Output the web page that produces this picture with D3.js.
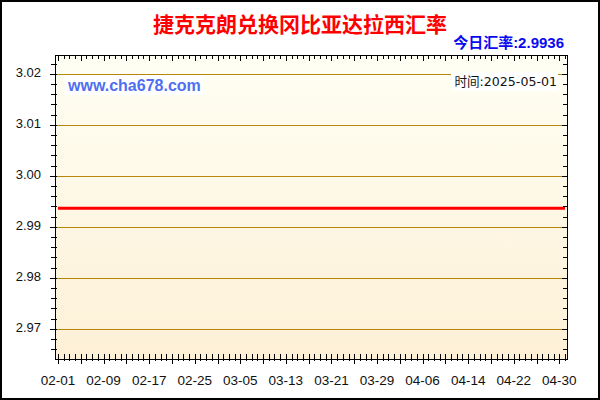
<!DOCTYPE html>
<html>
<head>
<meta charset="utf-8">
<script src="https://cdn.jsdelivr.net/npm/d3@7"></script>
<style>
  html, body { margin: 0; padding: 0; background: #fff; }
  svg { display: block; }
  text { font-family: "Liberation Sans", Arial, "Noto Sans CJK SC", sans-serif; }
</style>
</head>
<body>
<svg id="chart" width="600" height="400"></svg>
<script>
// ---- data ----
const titleText = "捷克克朗兑换冈比亚达拉西汇率";
const todayLabel = "今日汇率:2.9936";
const timeLabel = "时间:2025-05-01";
const watermark = "www.cha678.com";

const dates = ["2025-02-01","2025-02-09","2025-02-17","2025-02-25","2025-03-05","2025-03-13",
               "2025-03-21","2025-03-29","2025-04-06","2025-04-14","2025-04-22","2025-04-30","2025-05-01"];
const rates = [2.9936,2.9936,2.9936,2.9936,2.9936,2.9936,2.9936,2.9936,2.9936,2.9936,2.9936,2.9936,2.9936];

const xTickLabels = ["02-01","02-09","02-17","02-25","03-05","03-13","03-21","03-29","04-06","04-14","04-22","04-30"];
const yTicks = [2.97, 2.98, 2.99, 3.00, 3.01, 3.02];

// ---- layout ----
const W = 600, H = 400;
const plot = { left: 55, right: 568, top: 55, bottom: 360 };

const parse = d3.utcParse("%Y-%m-%d");
const data = dates.map((d, i) => ({ date: parse(d), value: rates[i] }));

const x = d3.scaleUtc()
  .domain([parse("2025-02-01"), parse("2025-04-30")])
  .range([58, 559.3]);
const y = d3.scaleLinear()
  .domain([2.97, 3.02])
  .range([328.7, 73.7]);

const svg = d3.select("#chart");

// gradient background
const defs = svg.append("defs");
const grad = defs.append("linearGradient").attr("id", "bg")
  .attr("x1", 0).attr("y1", 0).attr("x2", 0).attr("y2", 1);
grad.append("stop").attr("offset", "0%").attr("stop-color", "#fffff4");
grad.append("stop").attr("offset", "100%").attr("stop-color", "#fdf0d6");

svg.append("rect").attr("x", 0).attr("y", 0).attr("width", W).attr("height", H).attr("fill", "#fff");
svg.append("rect")
  .attr("x", plot.left).attr("y", plot.top)
  .attr("width", plot.right - plot.left).attr("height", plot.bottom - plot.top)
  .attr("fill", "url(#bg)");

// gridlines
svg.append("g").selectAll("line").data(yTicks).join("line")
  .attr("x1", plot.left).attr("x2", plot.right)
  .attr("y1", d => Math.round(y(d)) + 0.5).attr("y2", d => Math.round(y(d)) + 0.5)
  .attr("stroke", "#b8860b").attr("stroke-width", 1);

// data line
const line = d3.line().x(d => x(d.date)).y(d => y(d.value));
svg.append("path").datum(data)
  .attr("d", line)
  .attr("fill", "none").attr("stroke", "#ff0000").attr("stroke-width", 3);

// frame
svg.append("rect")
  .attr("x", plot.left + 0.5).attr("y", plot.top + 0.5)
  .attr("width", plot.right - plot.left - 1).attr("height", plot.bottom - plot.top - 1)
  .attr("fill", "none").attr("stroke", "#000").attr("stroke-width", 1);

// x ticks (daily minor, 4-day major)
const dayTicks = d3.utcDay.range(parse("2025-02-01"), d3.utcDay.offset(parse("2025-05-01"), 1));
const tg = svg.append("g").attr("stroke", "#000").attr("stroke-width", 1);
dayTicks.forEach((d, i) => {
  const xx = Math.round(x(d)) + 0.5;
  if (xx > plot.right - 1) return;
  const major = i % 4 === 0;
  tg.append("line").attr("x1", xx).attr("x2", xx)
    .attr("y1", plot.bottom - 6).attr("y2", plot.bottom + (major ? 4 : 1));
  tg.append("line").attr("x1", xx).attr("x2", xx)
    .attr("y1", plot.top).attr("y2", plot.top + (major ? 6 : 4));
});

// y ticks (0.002 minor, 0.01 major)
const yMinor = d3.range(2.964, 3.0236, 0.002);
yMinor.forEach(v => {
  const yy = Math.round(y(v)) + 0.5;
  if (yy < plot.top + 1 || yy > plot.bottom - 1) return;
  const major = Math.abs(Math.round(v * 100) - v * 100) < 1e-6;
  tg.append("line").attr("x1", major ? plot.left - 5 : plot.left - 4).attr("x2", plot.left + 2)
    .attr("y1", yy).attr("y2", yy);
  tg.append("line").attr("x1", plot.right - (major ? 6 : 5)).attr("x2", plot.right)
    .attr("y1", yy).attr("y2", yy);
});

// x tick labels
svg.append("g").selectAll("text").data(xTickLabels).join("text")
  .attr("x", d => x(parse("2025-" + d)))
  .attr("y", 385)
  .attr("text-anchor", "middle")
  .attr("font-size", 13.5)
  .attr("fill", "#111")
  .text(d => d);

// y tick labels
svg.append("g").selectAll("text").data(yTicks).join("text")
  .attr("x", 41)
  .attr("y", d => y(d) + 3)
  .attr("text-anchor", "end")
  .attr("font-size", 13)
  .attr("fill", "#111")
  .text(d => d3.format(".2f")(d));

// watermark
svg.append("rect").attr("x", 65).attr("y", 75).attr("width", 138).attr("height", 20).attr("fill", "#fff");
svg.append("text").attr("x", 68).attr("y", 91)
  .attr("font-size", 16).attr("font-weight", "bold").attr("fill", "#4f6ff0")
  .text(watermark);

// time label
svg.append("rect").attr("x", 451).attr("y", 72).attr("width", 107).attr("height", 19).attr("fill", "#fff");
svg.append("text").attr("x", 557).attr("y", 86)
  .attr("text-anchor", "end").attr("font-size", 12.6).attr("fill", "#111")
  .style("font-family", "'DejaVu Sans', 'Noto Sans CJK SC', sans-serif")
  .text(timeLabel);

// title
svg.append("text").attr("x", 300).attr("y", 32)
  .attr("text-anchor", "middle").attr("font-size", 21).attr("font-weight", "bold")
  .attr("fill", "#ff0000")
  .style("font-family", "'Noto Sans CJK SC', sans-serif")
  .text(titleText);

// today rate
svg.append("text").attr("x", 564).attr("y", 48)
  .attr("text-anchor", "end").attr("font-size", 15).attr("font-weight", "bold")
  .attr("fill", "#0a0af0")
  .text(todayLabel);

// outer border
svg.append("rect").attr("x", 1).attr("y", 1).attr("width", W - 2).attr("height", H - 2)
  .attr("fill", "none").attr("stroke", "#000").attr("stroke-width", 2);
</script>
</body>
</html>
